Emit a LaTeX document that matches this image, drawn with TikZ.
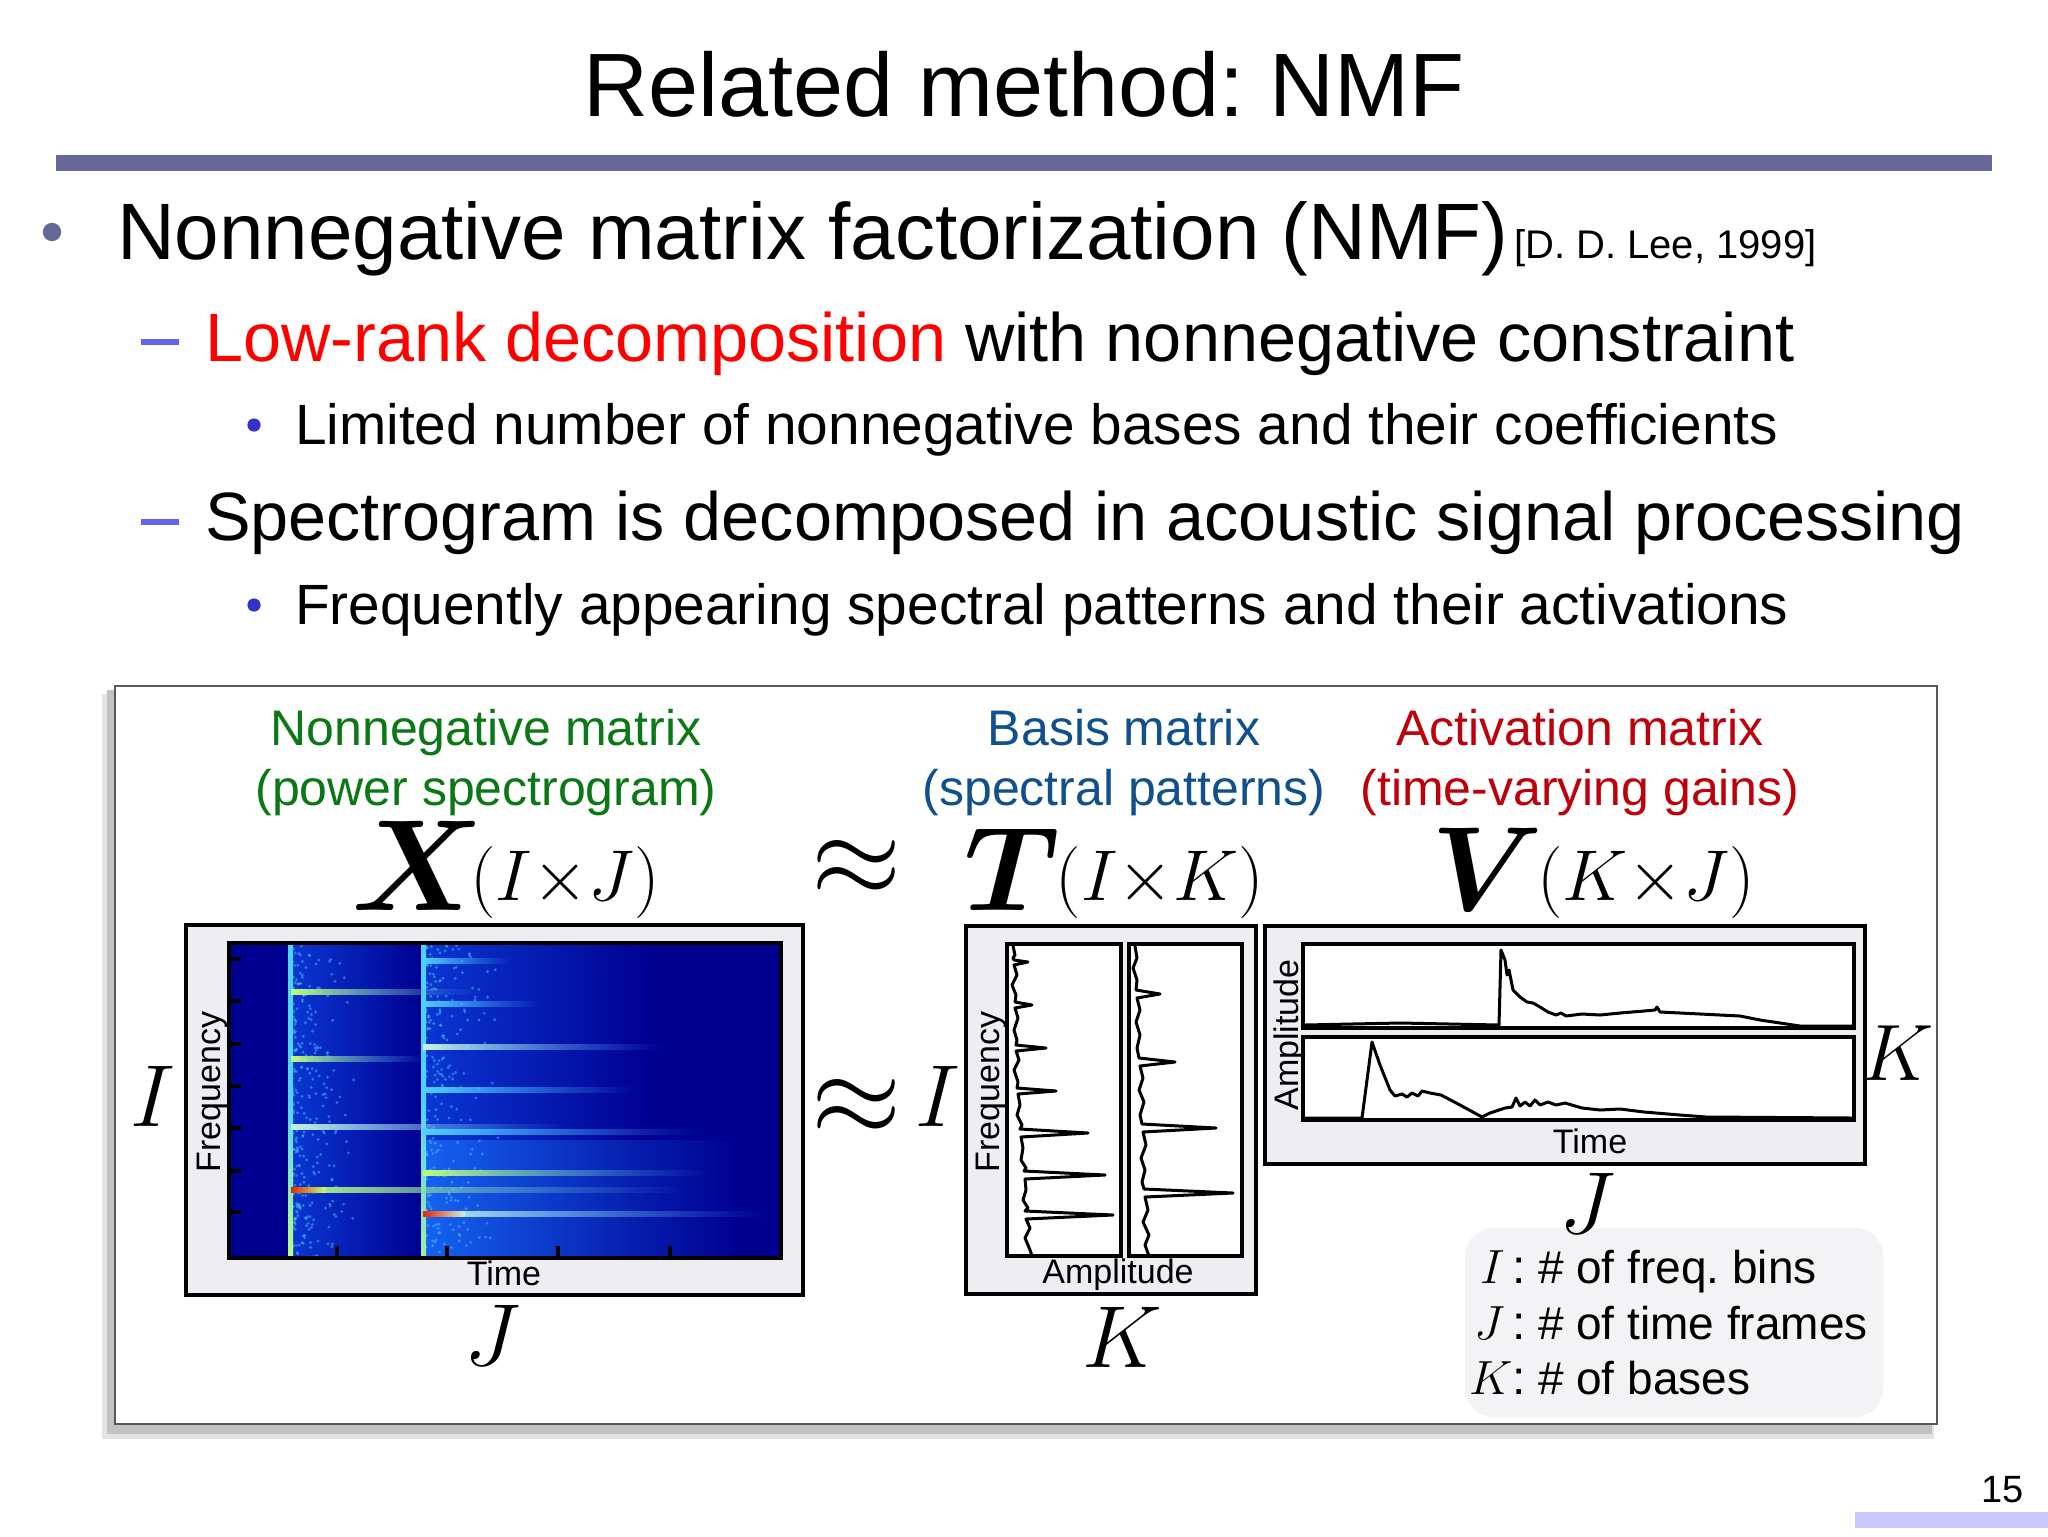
\RequirePackage{fix-cm}
\documentclass[tikz,border=0pt]{standalone}
\usepackage{amsmath}
\usepackage{bm}
\usepackage[no-math]{fontspec}
\setmainfont{Liberation Sans}
\usetikzlibrary{fadings}
\frenchspacing
\definecolor{rulecol}{RGB}{104,104,152}
\definecolor{dashcol}{RGB}{100,100,235}
\definecolor{subbul}{RGB}{50,50,200}
\definecolor{nmfred}{RGB}{255,0,0}
\definecolor{capgreen}{RGB}{10,120,20}
\definecolor{capblue}{RGB}{16,80,140}
\definecolor{capred}{RGB}{190,0,10}
\definecolor{boxfill}{RGB}{238,238,242}
\definecolor{legfill}{RGB}{243,243,246}
\definecolor{jetbg}{RGB}{0,0,145}
\definecolor{jetmid}{RGB}{10,55,210}
\definecolor{jetlow}{RGB}{25,110,250}
\definecolor{jcyan}{RGB}{80,210,255}
\definecolor{jlblue}{RGB}{60,150,255}
\definecolor{jwhite}{RGB}{200,245,230}
\definecolor{jyel}{RGB}{190,255,120}
\definecolor{jred}{RGB}{230,40,0}
\definecolor{pagebar}{RGB}{200,200,250}
\newcommand\harmline[4]{\shade[left color=#4, right color=jlblue, path fading=east] (#1,#3-2.5) rectangle (#2,#3+2.5);}
\begin{document}
\begin{tikzpicture}[x=0.5pt,y=-0.5pt,
  txt/.style={inner sep=0pt, outer sep=0pt},
  fs/.style={font=\fontsize{#1}{#1}\selectfont},
  panel/.style={draw=black, line width=2.2pt},
  curve/.style={black, line width=1.5pt, line join=round, line cap=round}]
\useasboundingbox (0,0) rectangle (2048,1536);
\fill[white] (0,0) rectangle (2048,1536);

% ---------- title ----------
\node[txt, fs=45, anchor=base] (title) at (1024,117) {Related method: NMF};
\fill[rulecol] (56,155) rectangle (1992,171);

% ---------- bullets ----------
\fill[rulecol] (52,232) circle (4.6pt);
\node[txt, fs=40, anchor=base west] (l1) at (117,259) {Nonnegative matrix factorization (NMF)};
\node[txt, fs=20, anchor=base west] (cite) at (1514,258) {[D. D. Lee, 1999]};

\fill[dashcol] (141,339) rectangle (179,345);
\node[txt, fs=34.2, anchor=base west] (l2) at (205,361) {\textcolor{nmfred}{Low-rank decomposition} with nonnegative constraint};

\fill[subbul] (254,425) circle (3.3pt);
\node[txt, fs=28.4, anchor=base west] (l3) at (295,444) {Limited number of nonnegative bases and their coefficients};

\fill[dashcol] (141,519) rectangle (179,525);
\node[txt, fs=34.2, anchor=base west] (l4) at (205,540) {Spectrogram is decomposed in acoustic signal processing};

\fill[subbul] (254,605) circle (3.3pt);
\node[txt, fs=28.4, anchor=base west] (l5) at (295,624) {Frequently appearing spectral patterns and their activations};

% ---------- figure frame ----------
\fill[gray!22] (102,694) rectangle (1934,1439);
\fill[gray!48] (107,690) rectangle (1932,1434);
\filldraw[fill=white, draw=gray!70!black, line width=0.8pt] (115,686) rectangle (1937,1424);

% captions
\node[txt, fs=25, anchor=base, text=capgreen] (capx1) at (486,745) {Nonnegative matrix};
\node[txt, fs=25, anchor=base, text=capgreen] (capx2) at (486,805) {(power spectrogram)};
\node[txt, fs=25, anchor=base, text=capblue] (capt1) at (1124,745) {Basis matrix};
\node[txt, fs=25, anchor=base, text=capblue] (capt2) at (1124,805) {(spectral patterns)};
\node[txt, fs=25, anchor=base, text=capred] (capv1) at (1580,745) {Activation matrix};
\node[txt, fs=25, anchor=base, text=capred] (capv2) at (1580,805) {(time-varying gains)};

% matrix symbols
\node[txt, anchor=base west] (symX) at (351,910) {{\fontsize{65}{65}\selectfont$\bm{X}$}\kern-7pt\raisebox{5pt}{\fontsize{36}{36}\selectfont$(I{\times}J)$}};
\node[txt, anchor=base west] (symT) at (964,910) {{\fontsize{60}{60}\selectfont$\bm{T}$}\kern-2pt\raisebox{5pt}{\fontsize{36}{36}\selectfont$(I{\times}K)$}};
\node[txt, anchor=base west] (symV) at (1431,910) {{\fontsize{60}{60}\selectfont$\bm{V}$}\kern-3pt\raisebox{5pt}{\fontsize{36}{36}\selectfont$(K{\times}J)$}};
\node[txt, fs=58] (ap1) at (857,868) {$\approx$};
\node[txt, fs=58] (ap2) at (857,1107) {$\approx$};

% ---------- X box ----------
\filldraw[fill=boxfill, panel] (186,925) rectangle (803,1295);
\begin{scope}
\clip (229,943) rectangle (781,1258);
\fill[jetbg] (229,943) rectangle (781,1258);
\shade[left color=jetmid, right color=jetbg] (291,943) rectangle (423,1258);
\shade[left color=jetmid, right color=jetbg] (423,943) rectangle (650,1258);
\shade[left color=jetlow, right color=jetbg, opacity=0.8] (423,1140) rectangle (740,1258);
\pgfmathsetseed{7}
\foreach \i in {1,...,300} {\fill[jcyan, opacity=0.45] ({291+70*rnd*rnd},{943+315*rnd}) circle (1.6);}
\foreach \i in {1,...,300} {\fill[jcyan, opacity=0.45] ({423+90*rnd*rnd},{943+315*rnd}) circle (1.6);}
\shade[top color=jcyan, bottom color=jyel, middle color=jcyan] (288,943) rectangle (293,1258);
\shade[top color=jcyan, bottom color=jyel!70!jcyan, middle color=jcyan] (421,943) rectangle (426,1258);
\harmline{291}{480}{992}{jyel}
\harmline{291}{430}{1059}{jyel}
\harmline{291}{572}{1127}{jwhite}
\harmline{291}{690}{1190}{jyel}
\shade[left color=jred, right color=jyel] (291,1187.5) rectangle (325,1192.5);
\harmline{423}{510}{961}{jcyan}
\harmline{423}{540}{1004}{jcyan}
\harmline{423}{665}{1047}{jwhite}
\harmline{423}{635}{1090}{jcyan}
\harmline{423}{700}{1132}{jcyan}
\harmline{423}{710}{1173}{jyel}
\harmline{423}{770}{1214}{jwhite}
\shade[left color=jred, right color=jwhite] (423,1211.5) rectangle (465,1216.5);
\end{scope}
\foreach \ty in {959,1001,1044,1086,1128,1171,1212} {\draw[line width=1.6pt] (229,\ty) -- (241,\ty);}
\foreach \tx in {337,447,558,670} {\draw[line width=1.6pt] (\tx,1258) -- (\tx,1246);}
\draw[panel] (229,943) rectangle (781,1258);
\node[txt, fs=17, anchor=base] (timeX) at (504,1285) {Time};
\node[txt, fs=17, anchor=base, rotate=90] (freqX) at (220,1092) {Frequency};

% ---------- T box ----------
\filldraw[fill=boxfill, panel] (966,926) rectangle (1256,1294);
\filldraw[fill=white, panel] (1007,944) rectangle (1121,1256);
\filldraw[fill=white, panel] (1129,944) rectangle (1242,1256);
\begin{scope}
\clip (1008,946) rectangle (1120,1254);
\draw[curve] plot coordinates {(1013,946) (1015,955) (1013,958) (1014,960) (1028,962) (1014,965) (1017,975) (1012,985) (1016,995) (1015,1002) (1032,1005) (1015,1008) (1018,1018) (1014,1030) (1017,1040) (1016,1045) (1046,1048) (1016,1051) (1019,1060) (1014,1070) (1018,1082) (1017,1088) (1056,1091) (1018,1094) (1020,1105) (1017,1115) (1022,1125) (1020,1129) (1088,1133) (1021,1137) (1023,1148) (1021,1160) (1026,1168) (1024,1171) (1105,1175) (1025,1179) (1026,1190) (1023,1200) (1028,1208) (1025,1211) (1113,1215) (1026,1219) (1030,1228) (1025,1238) (1030,1250) (1032,1256)};
\end{scope}
\begin{scope}
\clip (1130,946) rectangle (1241,1254);
\draw[curve] plot coordinates {(1135,946) (1137,958) (1133,968) (1137,980) (1136,990) (1160,994) (1137,998) (1140,1010) (1136,1022) (1140,1035) (1137,1048) (1139,1058) (1175,1062) (1140,1066) (1143,1078) (1139,1090) (1144,1102) (1140,1115) (1142,1124) (1216,1128) (1143,1132) (1146,1145) (1141,1158) (1145,1170) (1142,1182) (1144,1189) (1233,1193) (1145,1197) (1148,1210) (1143,1222) (1149,1235) (1145,1245) (1149,1256)};
\end{scope}
\node[txt, fs=17, anchor=base] (ampT) at (1118,1283) {Amplitude};
\node[txt, fs=17, anchor=base, rotate=90] (freqT) at (999,1092) {Frequency};

% ---------- V box ----------
\filldraw[fill=boxfill, panel] (1265,926) rectangle (1865,1164);
\filldraw[fill=white, panel] (1303,944) rectangle (1854,1028);
\filldraw[fill=white, panel] (1303,1037) rectangle (1854,1120);
\begin{scope}
\clip (1304,945) rectangle (1853,1027);
\draw[curve] plot coordinates {(1305,1025) (1400,1023) (1499,1025) (1501,950) (1505,960) (1507,975) (1509,970) (1513,990) (1520,997) (1527,1002) (1533,1003) (1540,1007) (1548,1012) (1556,1015) (1561,1013) (1566,1016) (1582,1014) (1600,1015) (1620,1013) (1644,1011) (1655,1010) (1657,1007) (1660,1012) (1700,1014) (1740,1016) (1760,1020) (1800,1026) (1852,1026)};
\end{scope}
\begin{scope}
\clip (1304,1038) rectangle (1853,1119);
\draw[curve] plot coordinates {(1305,1118) (1362,1118) (1372,1042) (1380,1065) (1390,1090) (1395,1096) (1402,1094) (1407,1097) (1412,1093) (1418,1096) (1422,1091) (1430,1093) (1441,1095) (1460,1105) (1482,1117) (1490,1113) (1505,1108) (1512,1107) (1516,1098) (1520,1106) (1525,1102) (1530,1106) (1535,1100) (1540,1105) (1548,1102) (1556,1105) (1565,1103) (1582,1108) (1600,1110) (1620,1109) (1644,1112) (1680,1115) (1706,1117) (1852,1118)};
\end{scope}
\node[txt, fs=17, anchor=base] (timeV) at (1590,1153) {Time};
\node[txt, fs=17, anchor=base, rotate=90] (ampV) at (1298,1035) {Amplitude};

% ---------- legend background ----------
\fill[legfill, rounded corners=14pt] (1465,1228) rectangle (1883,1417);

% ---------- dimension labels ----------
\node[txt, fs=44, anchor=base] (dIx) at (153,1126) {$I$};
\node[txt, fs=44, anchor=base] (dJx) at (492,1365) {$J$};
\node[txt, fs=44, anchor=base] (dIt) at (938,1126) {$I$};
\node[txt, fs=44, anchor=base] (dKt) at (1122,1367) {$K$};
\node[txt, fs=40, anchor=base] (dKv) at (1898,1080) {$K$};
\node[txt, fs=44, anchor=base] (dJv) at (1587,1233) {$J$};

% ---------- legend text ----------
\node[txt, fs=24, anchor=base east] (lgI) at (1526,1283) {$I$\,:};
\node[txt, fs=23, anchor=base west] (lgIt) at (1538,1283) {\# of freq. bins};
\node[txt, fs=24, anchor=base east] (lgJ) at (1526,1339) {$J$\,:};
\node[txt, fs=23, anchor=base west] (lgJt) at (1538,1339) {\# of time frames};
\node[txt, fs=24, anchor=base east] (lgK) at (1526,1394) {$K$:};
\node[txt, fs=23, anchor=base west] (lgKt) at (1538,1394) {\# of bases};

% ---------- page number ----------
\node[txt, fs=19, anchor=base east] (pg) at (2024,1502) {15};
\fill[pagebar] (1855,1512) rectangle (2048,1528);
\end{tikzpicture}
\end{document}
